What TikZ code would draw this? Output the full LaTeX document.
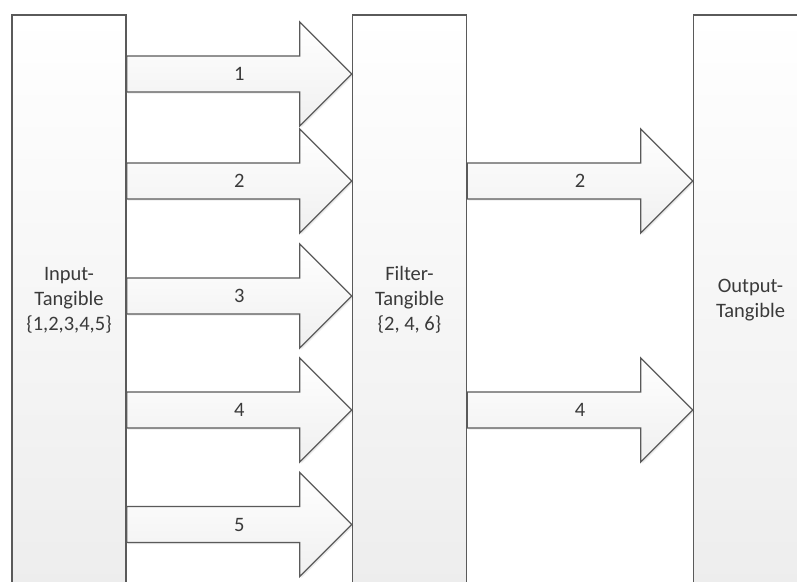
\documentclass[tikz,border=0pt]{standalone}
\usepackage{fontspec}
\setmainfont{Carlito}
\usetikzlibrary{calc,shadows}

\definecolor{edgegray}{HTML}{5A5A5A}
\definecolor{textgray}{HTML}{3A3A3A}

\tikzset{
  tank/.style={draw=edgegray, line width=1.4pt, rectangle,
    minimum width=114pt, minimum height=570pt,
    top color=white, bottom color=black!7,
    align=center, text=textgray,
    font=\fontsize{20.5}{25}\selectfont, inner sep=0pt},
  blockarrow/.style={draw=edgegray, line width=1.3pt, line join=miter,
    top color=white, bottom color=black!6,
    drop shadow={shadow xshift=1.5pt, shadow yshift=-1.5pt, fill=black, opacity=0.08}},
  arrowlabel/.style={text=textgray, font=\fontsize{20.5}{25}\selectfont, inner sep=0pt},
}

% block arrow from the east side of #1 to the west side of #2 at height #3
\newcommand\blockarrow[4]{%
  \coordinate (ba-s) at (#1.east |- 0,#3);
  \coordinate (ba-t) at (#2.west |- 0,#3);
  \draw[blockarrow] ($(ba-s)+(0,-18)$) -- ($(ba-t)+(-52,-18)$)
    -- ($(ba-t)+(-52,-52)$) -- (ba-t) -- ($(ba-t)+(-52,52)$)
    -- ($(ba-t)+(-52,18)$) -- ($(ba-s)+(0,18)$) -- cycle;
  \node[arrowlabel] at ($(ba-s)!0.5!(ba-t)$) {#4};
}

\begin{document}
\begin{tikzpicture}[x=1pt, y=-1pt]
  \useasboundingbox (0,0) rectangle (797,581);
  \clip (0,0) rectangle (797,581);
  \fill[white] (0,0) rectangle (797,581);

  \node[tank] (input)  at (69,300)    {Input-\\Tangible\\\{1,2,3,4,5\}};
  \node[tank] (filter) at (409.5,300) {Filter-\\Tangible\\\{2, 4, 6\}};
  \node[tank] (output) at (750.5,300) {Output-\\Tangible};

  \blockarrow{input}{filter}{74}{1}
  \blockarrow{input}{filter}{181}{2}
  \blockarrow{input}{filter}{296}{3}
  \blockarrow{input}{filter}{410}{4}
  \blockarrow{input}{filter}{524.5}{5}

  \blockarrow{filter}{output}{181}{2}
  \blockarrow{filter}{output}{410}{4}
\end{tikzpicture}
\end{document}
